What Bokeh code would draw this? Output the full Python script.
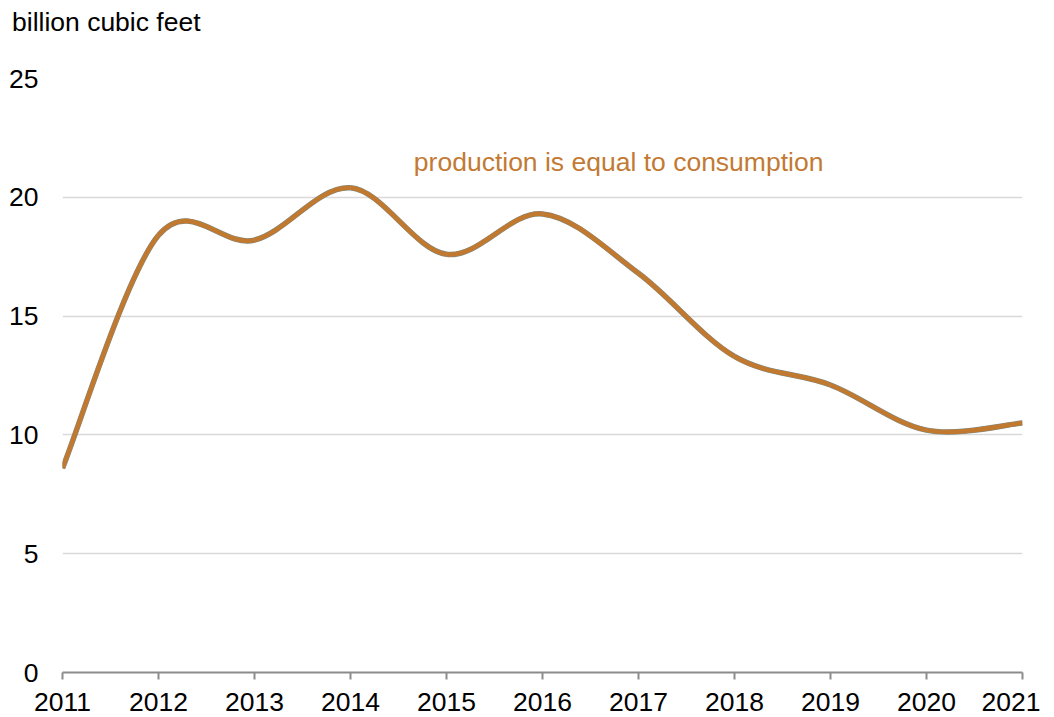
from bokeh.plotting import figure
from bokeh.models import Range1d, FixedTicker, Label, Div
from bokeh.layouts import column
from bokeh.embed import file_html
from bokeh.resources import INLINE

years = [2011, 2012, 2013, 2014, 2015, 2016, 2017, 2018, 2019, 2020, 2021]
production = [8.6, 18.4, 18.2, 20.4, 17.6, 19.3, 16.8, 13.3, 12.1, 10.2, 10.5]
consumption = [8.6, 18.4, 18.2, 20.4, 17.6, 19.3, 16.8, 13.3, 12.1, 10.2, 10.5]
y_ticks = [0, 5, 10, 15, 20, 25]
unit_label = "billion cubic feet"
note = "production is equal to consumption"

FONT = "Liberation Sans"
FS = "26.5px"

header = Div(text=unit_label, width=1040, height=44, margin=(0, 0, 0, 0),
             styles={"font-family": FONT, "font-size": FS, "color": "black",
                     "line-height": "44px", "padding-left": "12px", "white-space": "nowrap"})

p = figure(width=1040, height=673, output_backend="svg", toolbar_location=None,
           x_range=Range1d(2011, 2021), y_range=Range1d(0, 25),
           min_border_left=62, min_border_right=18, min_border_top=34, min_border_bottom=45)
p.outline_line_color = None
p.background_fill_color = "white"
p.margin = (0, 0, 0, 0)


def bez(xs, ys):
    n = len(xs)
    x0, y0, x1, y1, cx0, cy0, cx1, cy1 = [], [], [], [], [], [], [], []
    for i in range(n - 1):
        xp, yp = (xs[i - 1], ys[i - 1]) if i > 0 else (xs[i], ys[i])
        xn, yn = (xs[i + 2], ys[i + 2]) if i + 2 < n else (xs[i + 1], ys[i + 1])
        x0.append(xs[i]); y0.append(ys[i]); x1.append(xs[i + 1]); y1.append(ys[i + 1])
        cx0.append(xs[i] + (xs[i + 1] - xp) / 6); cy0.append(ys[i] + (ys[i + 1] - yp) / 6)
        cx1.append(xs[i + 1] - (xn - xs[i]) / 6); cy1.append(ys[i + 1] - (yn - ys[i]) / 6)
    return dict(x0=x0, y0=y0, x1=x1, y1=y1, cx0=cx0, cy0=cy0, cx1=cx1, cy1=cy1)


b1 = bez(years, production)
p.bezier(**b1, line_color="#7f8a86", line_width=5.5)
b2 = bez(years, consumption)
p.bezier(**b2, line_color="#C0792F", line_width=4.5)

p.add_layout(Label(x=2014.66, y=21.5, text=note, text_font=FONT, text_font_size=FS,
                   text_color="#C27A34", text_align="left", text_baseline="middle"))

p.xaxis.ticker = FixedTicker(ticks=years)
p.xaxis.major_label_text_font = FONT
p.xaxis.major_label_text_font_size = FS
p.xaxis.major_label_text_color = "black"
p.xaxis.axis_line_color = "#8c8c8c"
p.xaxis.axis_line_width = 2
p.xaxis.major_tick_line_color = "#8c8c8c"
p.xaxis.major_tick_line_width = 2
p.xaxis.major_tick_out = 7
p.xaxis.major_tick_in = 0
p.xaxis.minor_tick_line_color = None
p.xaxis.major_label_standoff = 13

p.yaxis.ticker = FixedTicker(ticks=y_ticks)
p.yaxis.major_label_text_font = FONT
p.yaxis.major_label_text_font_size = FS
p.yaxis.major_label_text_color = "black"
p.yaxis.axis_line_color = None
p.yaxis.major_tick_line_color = None
p.yaxis.minor_tick_line_color = None
p.yaxis.major_label_standoff = 18

p.xgrid.grid_line_color = None
p.ygrid.grid_line_color = "#d9d9d9"
p.ygrid.grid_line_width = 1.5

layout = column(header, p, spacing=0)
open("out.html", "w").write(file_html(layout, INLINE))
